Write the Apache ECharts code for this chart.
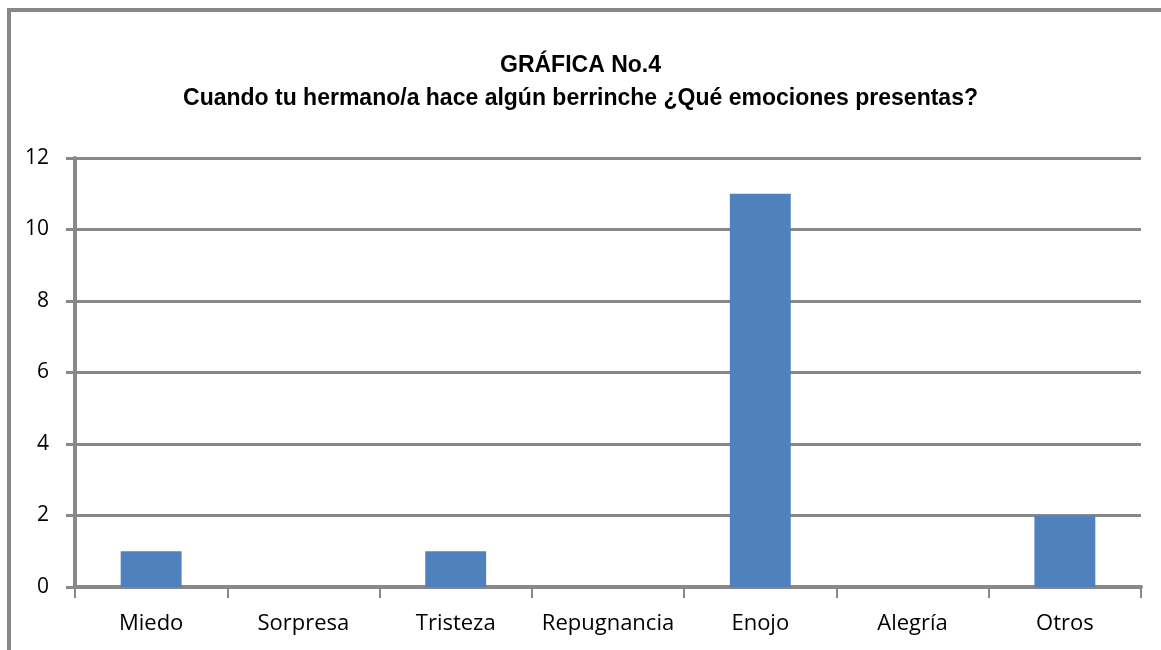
<!DOCTYPE html>
<html>
<head>
<meta charset="utf-8">
<script src="https://cdn.jsdelivr.net/npm/echarts@6/dist/echarts.min.js"></script>
<style>
  html, body { margin: 0; padding: 0; background: #fff; }
  #chart { width: 1161px; height: 650px; }
</style>
</head>
<body>
<div id="chart"></div>
<script>
// datos de la gráfica
var categorias = ['Miedo', 'Sorpresa', 'Tristeza', 'Repugnancia', 'Enojo', 'Alegría', 'Otros'];
var valores = [1, 0, 1, 0, 11, 0, 2];
var titulo = 'GRÁFICA No.4';
var subtitulo = 'Cuando tu hermano/a hace algún berrinche ¿Qué emociones presentas?';

var chart = echarts.init(document.getElementById('chart'));
chart.setOption({
    animation: false,
    title: {
        text: titulo + '\n' + subtitulo,
        left: 'center',
        top: 44,
        textStyle: {
            fontFamily: 'Liberation Sans',
            fontSize: 23,
            fontWeight: 'bold',
            color: '#000',
            lineHeight: 33
        }
    },
    // marco exterior
    graphic: [{
        type: 'polyline',
        shape: { points: [[9, 650], [9, 10], [1161, 10]] },
        style: { stroke: '#888', lineWidth: 4, fill: null }
    }],
    grid: {
        left: 75,
        right: 20,
        top: 158,
        bottom: 63
    },
    xAxis: {
        type: 'category',
        data: categorias,
        axisLine: { lineStyle: { color: '#888', width: 4 } },
        axisTick: {
            show: true,
            interval: 0,
            alignWithLabel: false,
            length: 11,
            lineStyle: { color: '#888', width: 2 }
        },
        axisLabel: {
            interval: 0,
            margin: 26,
            fontFamily: 'Open Sans',
            fontSize: 22,
            color: '#000'
        }
    },
    yAxis: {
        type: 'value',
        min: 0,
        max: 12,
        interval: 2,
        axisLine: { show: true, lineStyle: { color: '#888', width: 4 } },
        axisTick: { show: true, length: 9, lineStyle: { color: '#888', width: 3 } },
        axisLabel: {
            margin: 26,
            fontFamily: 'Open Sans',
            fontSize: 21,
            color: '#000'
        },
        splitLine: { lineStyle: { color: '#888', width: 3 } }
    },
    series: [{
        type: 'bar',
        data: valores,
        barWidth: '40%',
        itemStyle: { color: '#4F81BD' }
    }]
});
</script>
</body>
</html>
